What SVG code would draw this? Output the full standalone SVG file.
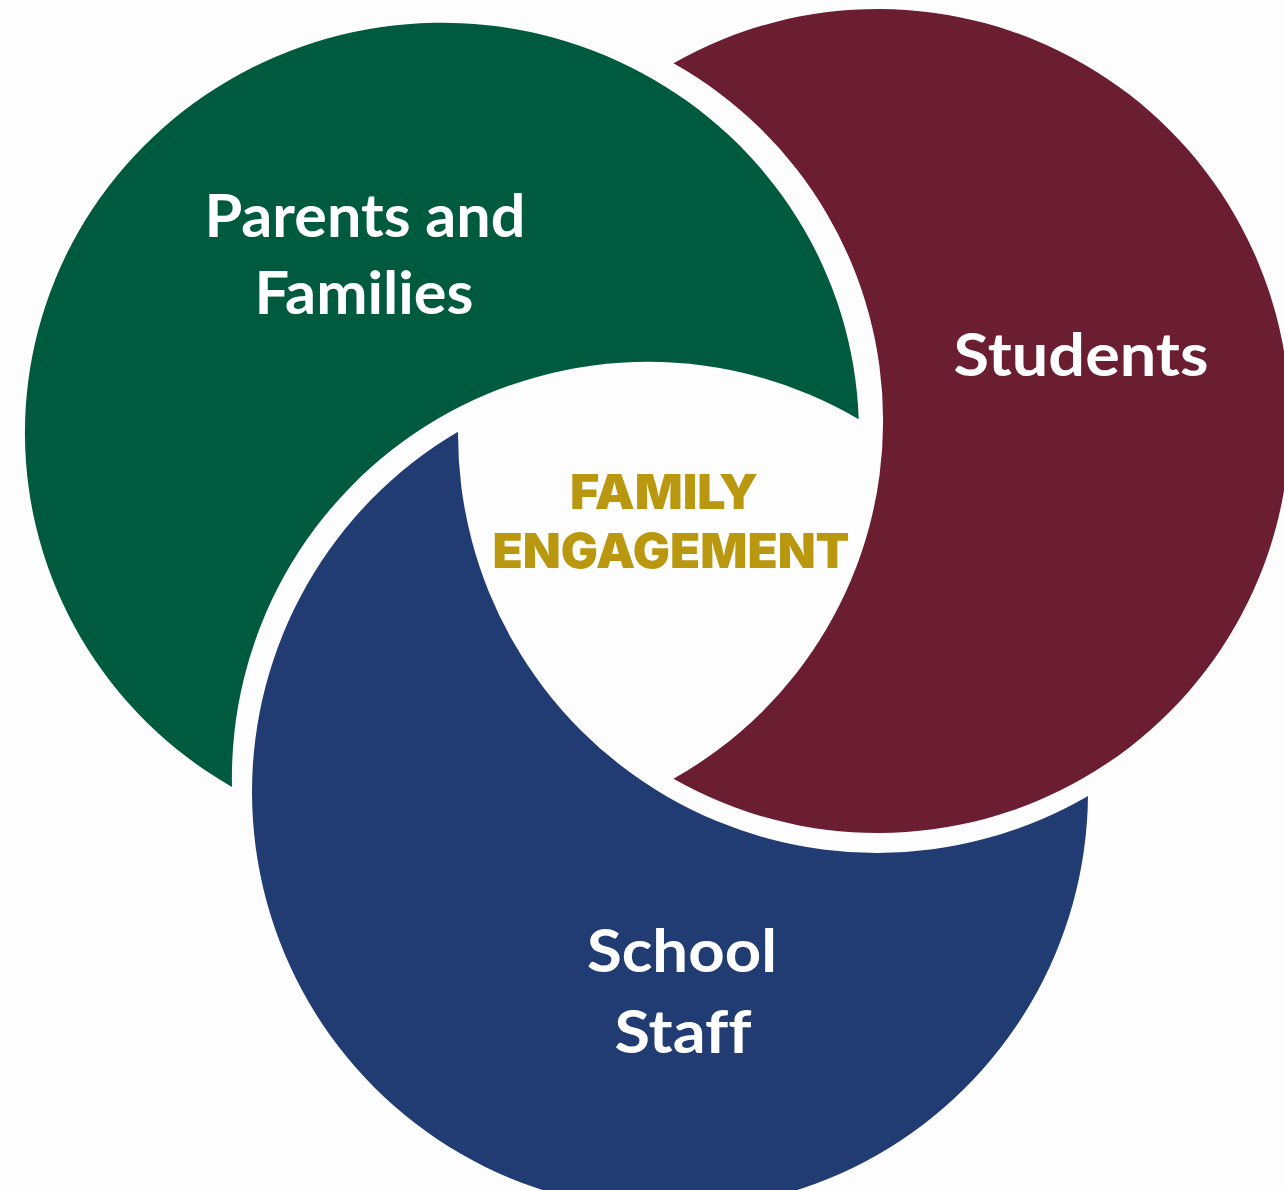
<svg xmlns="http://www.w3.org/2000/svg" width="1284" height="1190" viewBox="0 0 1284 1190">
  <style>
    .bg { fill: #FDFDFD; }
    .green { fill: #005A3D; }
    .maroon { fill: #6B1E32; }
    .blue { fill: #213B73; }
    .label { font-family: Lato, "Open Sans", "Liberation Sans", sans-serif; font-weight: 700; font-size: 59px; fill: #FFFFFF; text-anchor: middle; font-variant-ligatures: none; }
    .core { font-family: Inter, "Liberation Sans", sans-serif; font-weight: 900; font-size: 48px; fill: #B9970F; text-anchor: middle; }
  </style>
  <rect class="bg" x="0" y="0" width="1284" height="1190"/>

  <g id="students">
    <path class="maroon" d="M 673.5,63.3 A 412 412 0 1 1 673.5,778.7 A 410 410 0 0 0 673.5,63.3 Z"/>
    <text class="label" x="1081" y="376" textLength="255" lengthAdjust="spacingAndGlyphs">Students</text>
  </g>

  <g id="parents-and-families">
    <path class="green" d="M 232,787 A 417 410 0 1 1 858.7,419.2 A 416 416 0 0 0 232,787 Z"/>
    <text class="label" x="365" y="237" textLength="321" lengthAdjust="spacingAndGlyphs">Parents and</text>
    <text class="label" x="364" y="314" textLength="219" lengthAdjust="spacingAndGlyphs">Families</text>
  </g>

  <g id="school-staff">
    <path class="blue" d="M 458,431.7 A 418 418 0 1 0 1088,795.9 A 419 419 0 0 1 458,431.7 Z"/>
    <text class="label" x="682" y="972" textLength="190" lengthAdjust="spacingAndGlyphs">School</text>
    <text class="label" x="683" y="1053" textLength="137" lengthAdjust="spacingAndGlyphs">Staff</text>
  </g>

  <g id="family-engagement">
    <text class="core" x="664" y="509" textLength="188" lengthAdjust="spacingAndGlyphs">FAMILY</text>
    <text class="core" x="671" y="568" textLength="357" lengthAdjust="spacingAndGlyphs">ENGAGEMENT</text>
  </g>
</svg>
